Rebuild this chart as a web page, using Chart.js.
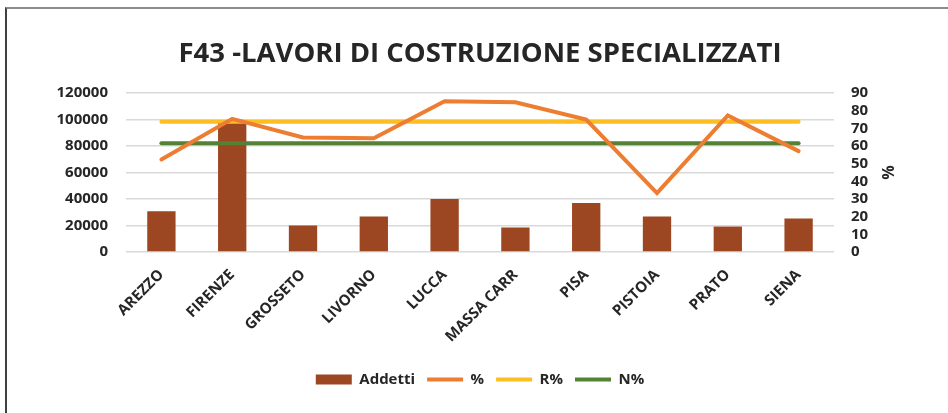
<!DOCTYPE html>
<html>
<head>
<meta charset="utf-8">
<script src="https://cdn.jsdelivr.net/npm/chart.js@4"></script>
<style>
  html, body { margin: 0; padding: 0; background: #fff; }
  #wrap { position: relative; width: 948px; height: 413px; }
  #frame { position: absolute; left: 5px; top: 7px; right: 0; bottom: 0; border-top: 2px solid #8c8c8c; border-left: 2px solid #404040; pointer-events: none; }
</style>
</head>
<body>
<div id="wrap">
  <canvas id="chart" width="948" height="413"></canvas>
  <div id="frame"></div>
</div>
<script>
const provinces = ["AREZZO", "FIRENZE", "GROSSETO", "LIVORNO", "LUCCA", "MASSA CARR", "PISA", "PISTOIA", "PRATO", "SIENA"];
const addetti = [30700, 99000, 20000, 26700, 40000, 18500, 37000, 26700, 19200, 25200];
const perc = [52.4, 75.4, 64.8, 64.4, 85.3, 84.7, 74.9, 33.3, 77.3, 57.1];
const percR = [73.7, 73.7, 73.7, 73.7, 73.7, 73.7, 73.7, 73.7, 73.7, 73.7];
const percN = [61.6, 61.6, 61.6, 61.6, 61.6, 61.6, 61.6, 61.6, 61.6, 61.6];

const textColor = "#262626";
const gridColor = "#d9d9d9";

Chart.defaults.font.family = "'Open Sans', sans-serif";
Chart.defaults.font.weight = "bold";
Chart.defaults.color = textColor;

const ctx = document.getElementById("chart");

new Chart(ctx, {
  data: {
    labels: provinces,
    datasets: [
      {
        type: "bar",
        label: "Addetti",
        data: addetti,
        backgroundColor: "#9c4622",
        yAxisID: "y",
        barPercentage: 0.4,
        categoryPercentage: 1,
        order: 4,
      },
      {
        type: "line",
        label: "%",
        data: perc,
        borderColor: "#ed7d31",
        backgroundColor: "#ed7d31",
        borderWidth: 4,
        borderCapStyle: "round",
        pointRadius: 0,
        tension: 0,
        yAxisID: "y1",
        order: 1,
      },
      {
        type: "line",
        label: "R%",
        data: percR,
        borderColor: "#fbbf24",
        backgroundColor: "#fbbf24",
        borderWidth: 4,
        borderCapStyle: "round",
        pointRadius: 0,
        yAxisID: "y1",
        order: 2,
      },
      {
        type: "line",
        label: "N%",
        data: percN,
        borderColor: "#548235",
        backgroundColor: "#548235",
        borderWidth: 4,
        borderCapStyle: "round",
        pointRadius: 0,
        yAxisID: "y1",
        order: 3,
      },
    ],
  },
  options: {
    responsive: false,
    animation: false,
    layout: { padding: { left: 0, right: 48, top: 0, bottom: 16 } },
    plugins: {
      title: {
        display: true,
        fullSize: false,
        text: "F43 -LAVORI DI COSTRUZIONE SPECIALIZZATI",
        font: { size: 27.5, weight: "bold" },
        color: textColor,
        padding: { top: 38, bottom: 22 },
      },
      legend: {
        position: "bottom",
        fullSize: false,
        labels: {
          usePointStyle: true,
          pointStyleWidth: 36,
          boxHeight: 10,
          padding: 12,
          font: { size: 15, weight: "bold" },
          color: textColor,
          sort: (a, b) => a.datasetIndex - b.datasetIndex,
          generateLabels(chart) {
            const items = Chart.defaults.plugins.legend.labels.generateLabels(chart);
            items.forEach(it => {
              it.pointStyle = it.datasetIndex === 0 ? "rect" : "line";
              if (it.datasetIndex === 0) it.lineWidth = 0;
            });
            return items;
          },
        },
      },
      tooltip: { enabled: false },
    },
    scales: {
      x: {
        grid: { display: false },
        border: { display: false },
        ticks: { maxRotation: 45, minRotation: 45, padding: 6, font: { size: 15, weight: "bold" } },
        afterFit(scale) { scale.height = 108; },
      },
      y: {
        position: "left",
        min: 0,
        max: 120000,
        ticks: { stepSize: 20000, padding: 18, autoSkip: false, font: { size: 15, weight: "bold" }, callback: v => String(v) },
        grid: { color: gridColor, lineWidth: 1.5, drawTicks: false },
        border: { display: false },
        afterFit(scale) { scale.width = 126; },
      },
      y1: {
        position: "right",
        min: 0,
        max: 90,
        ticks: { stepSize: 10, padding: 17, autoSkip: false, font: { size: 15, weight: "bold" }, callback: v => String(v) },
        grid: { display: false, drawTicks: false },
        border: { display: false },
        title: { display: true, text: "%", font: { size: 16, weight: "bold" }, color: textColor, padding: 4 },
        afterFit(scale) { scale.width = 66; },
      },
    },
  },
});
</script>
</body>
</html>
